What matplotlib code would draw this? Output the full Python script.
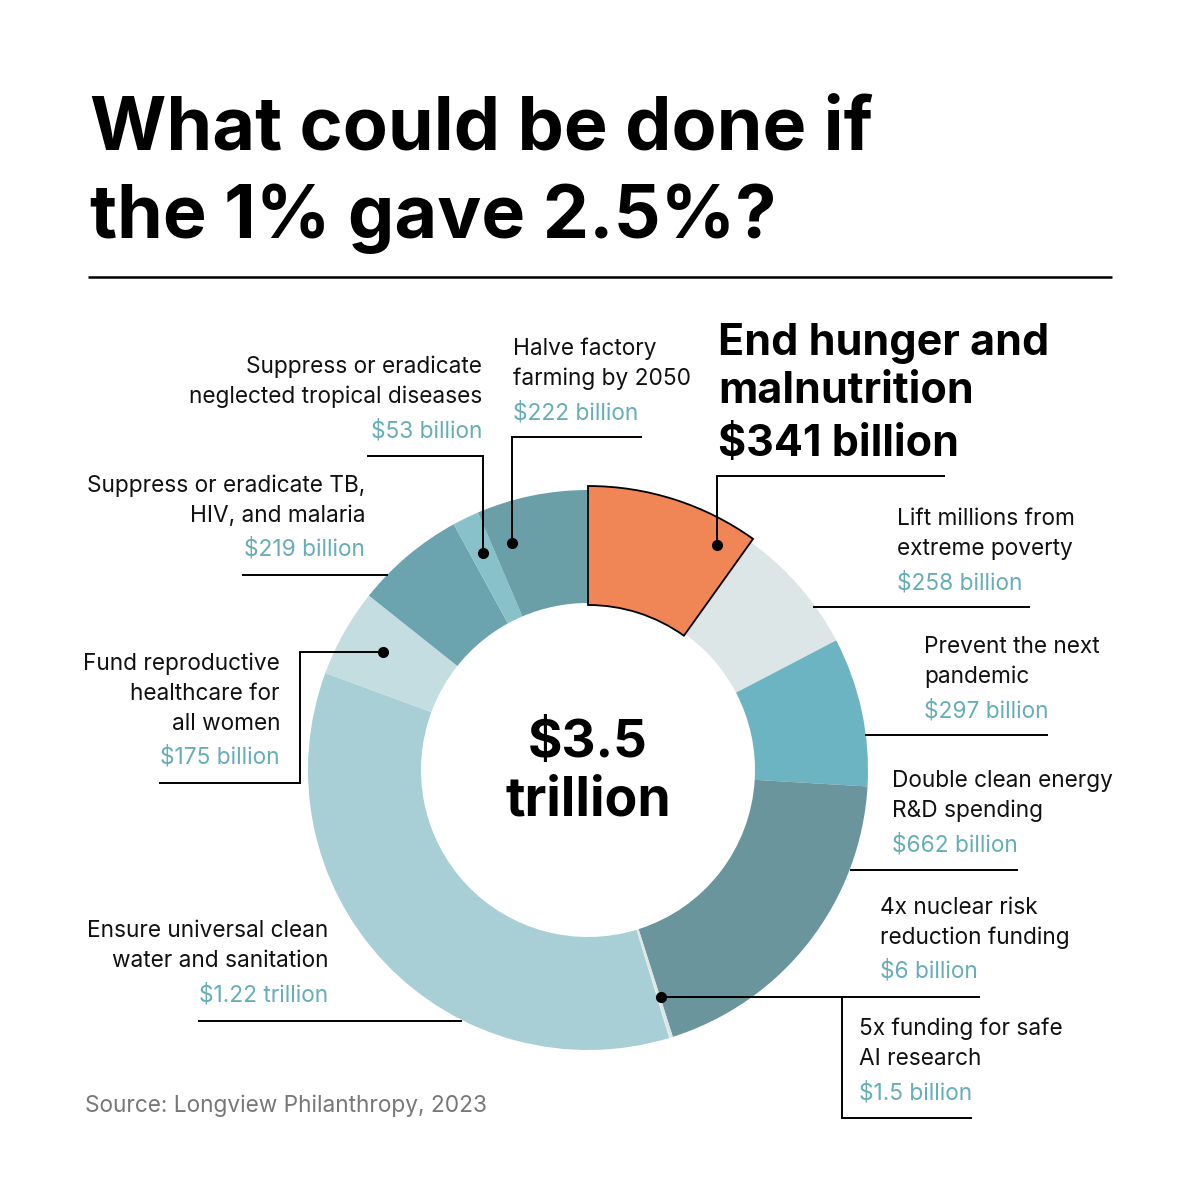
import matplotlib
matplotlib.use("Agg")
import matplotlib.pyplot as plt

# ---- data ----
categories = [
    "End hunger and malnutrition",
    "Lift millions from extreme poverty",
    "Prevent the next pandemic",
    "Double clean energy R&D spending",
    "4x nuclear risk reduction funding",
    "5x funding for safe AI research",
    "Ensure universal clean water and sanitation",
    "Fund reproductive healthcare for all women",
    "Suppress or eradicate TB, HIV, and malaria",
    "Suppress or eradicate neglected tropical diseases",
    "Halve factory farming by 2050",
]
values_bn = [341, 258, 297, 662, 6, 1.5, 1220, 175, 219, 53, 222]
value_labels = ["$341 billion", "$258 billion", "$297 billion", "$662 billion",
                "$6 billion", "$1.5 billion", "$1.22 trillion", "$175 billion",
                "$219 billion", "$53 billion", "$222 billion"]
slice_colors = ["#F08656", "#DCE6E7", "#6CB4C1", "#6A959C", "#DCE6E7", "#E4EDEE",
                "#A7CFD5", "#C4DDE1", "#6BA4AF", "#88C1CA", "#6A9FA8"]
title_lines = ["What could be done if", "the 1% gave 2.5%?"]
center_lines = ["$3.5", "trillion"]
source_text = "Source: Longview Philanthropy, 2023"

VALUE_COLOR = "#66ADB8"
FONT = "Inter"

fig = plt.figure(figsize=(12, 12), dpi=100)
fig.patch.set_facecolor("white")

# ---- donut ----
cx, cy, R = 588, 770, 280
pax = fig.add_axes([(cx - 300) / 1200, (1200 - cy - 300) / 1200, 600 / 1200, 600 / 1200])
wedges, _ = pax.pie(values_bn, colors=slice_colors, startangle=90, counterclock=False,
                    radius=R, center=(0, 0), frame=False,
                    wedgeprops=dict(width=113, linewidth=0))
hl = wedges[0]
hl.set_radius(284)
hl.set_width(119)
hl.set_edgecolor("black")
hl.set_linewidth(1.3)
hl.set_zorder(5)
pax.set_xlim(-300, 300)
pax.set_ylim(-300, 300)
pax.set_aspect("equal")
pax.axis("off")

# ---- overlay ----
ax = fig.add_axes([0, 0, 1, 1], zorder=10)
ax.set_xlim(0, 1200)
ax.set_ylim(1200, 0)
ax.axis("off")
ax.patch.set_alpha(0)

for i, line in enumerate(title_lines):
    ax.text(90, [150, 238][i], line, fontsize=53, fontweight="bold", family=FONT,
            ha="left", va="baseline", color="black")
ax.plot([88, 1112], [277, 277], color="black", lw=1.8, solid_capstyle="butt")

# center
ax.text(cx, 757, center_lines[0], fontsize=38, fontweight="bold", family=FONT,
        ha="center", va="baseline")
ax.text(cx, 815, center_lines[1], fontsize=38.5, fontweight="bold", family=FONT,
        ha="center", va="baseline")

LFS = 16.3
def label(x, y0, lines, val, ha):
    y = y0
    for ln in lines:
        ax.text(x, y, ln, fontsize=LFS, family=FONT, ha=ha, va="baseline", color="#111111")
        y += 30
    ax.text(x, y + 4, val, fontsize=LFS, family=FONT, ha=ha, va="baseline", color=VALUE_COLOR)

LW = 1.4
def lead(xs, ys, dot=True):
    ax.plot(xs, ys, color="black", lw=LW, solid_joinstyle="miter", solid_capstyle="butt")
    if dot:
        ax.plot(xs[-1], ys[-1], "o", color="black", ms=7)

# hunger (bold)
HFS = 31
ax.text(718, 355, "End hunger and", fontsize=HFS, fontweight="bold", family=FONT, va="baseline")
ax.text(718, 403, "malnutrition", fontsize=HFS, fontweight="bold", family=FONT, va="baseline")
ax.text(718, 456, value_labels[0], fontsize=HFS, fontweight="bold", family=FONT, va="baseline")
lead([945, 717, 717], [476, 476, 545])

label(897, 525, ["Lift millions from", "extreme poverty"], value_labels[1], "left")
lead([1030, 813], [607, 607], dot=False)

label(924, 653, ["Prevent the next", "pandemic"], value_labels[2], "left")
lead([1048, 865], [735, 735], dot=False)

label(892, 787, ["Double clean energy", "R&D spending"], value_labels[3], "left")
lead([1018, 850], [870, 870], dot=False)

label(880, 914, ["4x nuclear risk", "reduction funding"], value_labels[4], "left")
lead([980, 661], [997, 997])

label(859, 1035, ["5x funding for safe", "AI research"], value_labels[5], "left")
lead([972, 842, 842], [1118, 1118, 997], dot=False)

label(328, 937, ["Ensure universal clean", "water and sanitation"], value_labels[6], "right")
lead([198, 462], [1021, 1021], dot=False)

label(280, 670, ["Fund reproductive", "healthcare for", "all women"], value_labels[7], "right")
lead([159, 300, 300, 383], [783, 783, 652, 652])

label(365, 492, ["Suppress or eradicate TB,", "HIV, and malaria"], value_labels[8], "right")
lead([242, 388], [575, 575], dot=False)

label(482, 373, ["Suppress or eradicate", "neglected tropical diseases"], value_labels[9], "right")
lead([367, 483, 483], [456, 456, 553])

label(513, 355, ["Halve factory", "farming by 2050"], value_labels[10], "left")
lead([642, 512, 512], [437, 437, 543])

ax.text(85, 1112, source_text, fontsize=16.3, family=FONT, color="#777777", va="baseline")

fig.savefig("out.png", dpi=100, facecolor="white")
